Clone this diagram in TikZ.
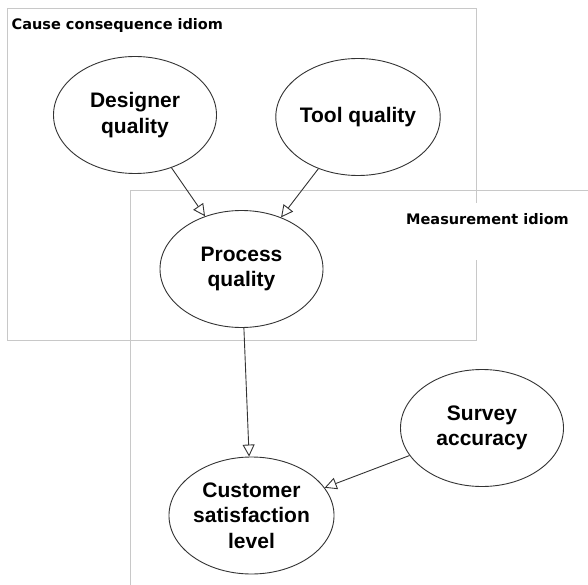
\documentclass[tikz,border=0pt]{standalone}
\usepackage{fontspec}
\setmainfont{Liberation Sans}
\newfontfamily\titlefont{DejaVu Sans}
\usetikzlibrary{shapes.geometric,arrows.meta}
\definecolor{boxgray}{HTML}{C8C8C8}
\definecolor{linegray}{HTML}{333333}
\begin{document}
\begin{tikzpicture}[x=1pt,y=-1pt,
  bnode/.style={ellipse, draw=linegray, line width=0.9pt, fill=white, inner sep=0pt,
    align=center, font=\fontsize{21}{25.5}\selectfont\bfseries,
    minimum width=163pt, minimum height=117pt},
  conn/.style={draw=linegray, line width=0.9pt, -{Triangle[open,length=12pt,width=12pt]}},
  idiombox/.style={draw=boxgray, line width=1pt},
  idiomtitle/.style={font=\titlefont\fontsize{14.5}{17}\selectfont\bfseries,
    anchor=base west, inner sep=0pt}]
\useasboundingbox (0,0) rectangle (588,585);
\clip (0,0) rectangle (588,585);
% idiom frames
\draw[idiombox] (7.5,8.5) rectangle (476.5,340.5);
\draw[idiombox] (130.5,190.5) rectangle (600,600);
\fill[white] (402,203) rectangle (585,260);
\node[idiomtitle] (cctitle) at (11.5,30) {Cause consequence idiom};
\node[idiomtitle] (mtitle) at (406,225) {Measurement idiom};
% nodes
\node[bnode] (designer) at (135,115) {Designer\\quality};
\node[bnode] (tool) at (358,117) {Tool quality};
\node[bnode] (process) at (241.5,269) {Process\\quality};
\node[bnode] (customer) at (251.5,515.5) {Customer\\satisfaction\\level};
\node[bnode] (survey) at (482,428) {Survey\\accuracy};
% connectors
\draw[conn] (designer) -- (process);
\draw[conn] (tool) -- (process);
\draw[conn] (process) -- (customer);
\draw[conn] (survey) -- (customer);
\end{tikzpicture}
\end{document}
